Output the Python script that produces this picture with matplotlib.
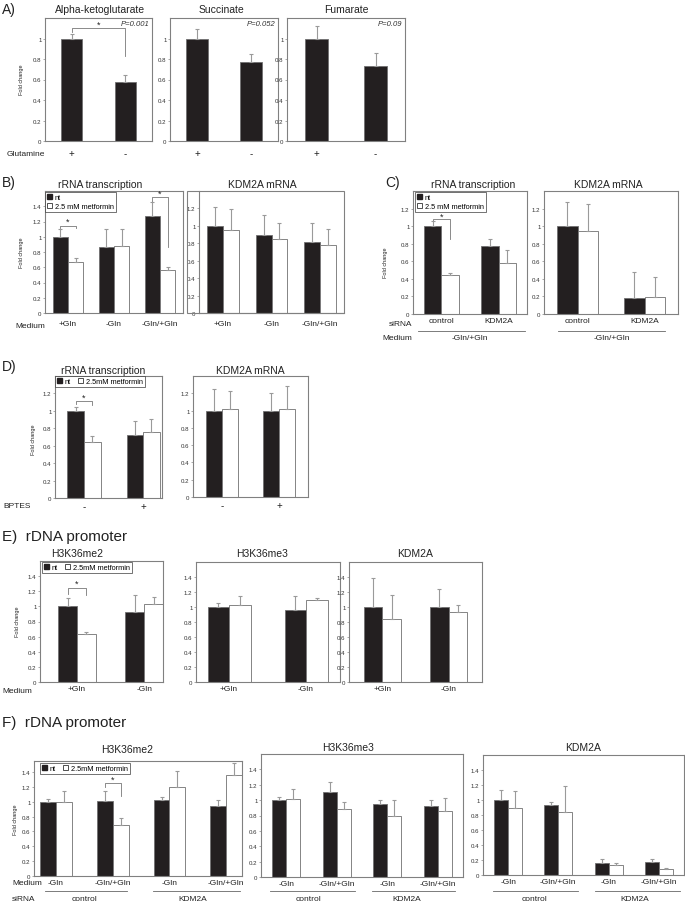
import numpy as np
import matplotlib
matplotlib.use("Agg")
import matplotlib.pyplot as plt
from matplotlib.patches import Patch, Rectangle
from matplotlib.lines import Line2D
from matplotlib.ticker import FuncFormatter

plt.rcParams['font.family'] = ['Liberation Sans', 'DejaVu Sans']

# ---- data ----
# A) metabolites
a_titles = ["Alpha-ketoglutarate", "Succinate", "Fumarate"]
a_cats = ["+", "-"]
a_vals = [[1.0, 0.58], [1.0, 0.77], [1.0, 0.73]]
a_errs = [[0.04, 0.06], [0.09, 0.08], [0.12, 0.13]]
a_pvals = ["P=0.001", "P=0.052", "P=0.09"]

# B) medium
b_cats = ["+Gln", "-Gln", "-Gln/+Gln"]
b_rrna_nt = [1.0, 0.86, 1.27]
b_rrna_nt_err = [0.10, 0.24, 0.18]
b_rrna_met = [0.67, 0.88, 0.56]
b_rrna_met_err = [0.05, 0.22, 0.04]
b_kdm_nt = [1.0, 0.90, 0.82]
b_kdm_nt_err = [0.22, 0.23, 0.21]
b_kdm_met = [0.95, 0.85, 0.78]
b_kdm_met_err = [0.24, 0.18, 0.18]

# C) siRNA
c_cats = ["control", "KDM2A"]
c_rrna_nt = [1.0, 0.77]
c_rrna_nt_err = [0.06, 0.085]
c_rrna_met = [0.44, 0.58]
c_rrna_met_err = [0.03, 0.15]
c_kdm_nt = [1.0, 0.18]
c_kdm_nt_err = [0.27, 0.30]
c_kdm_met = [0.95, 0.19]
c_kdm_met_err = [0.30, 0.23]

# D) BPTES
d_cats = ["-", "+"]
d_rrna_nt = [1.0, 0.72]
d_rrna_nt_err = [0.05, 0.165]
d_rrna_met = [0.64, 0.76]
d_rrna_met_err = [0.075, 0.15]
d_kdm_nt = [1.0, 0.99]
d_kdm_nt_err = [0.245, 0.21]
d_kdm_met = [1.02, 1.02]
d_kdm_met_err = [0.21, 0.26]

# E) rDNA promoter, medium
e_cats = ["+Gln", "-Gln"]
e_me2_nt = [1.0, 0.92]
e_me2_nt_err = [0.11, 0.23]
e_me2_met = [0.63, 1.03]
e_me2_met_err = [0.03, 0.09]
e_me3_nt = [1.0, 0.96]
e_me3_nt_err = [0.06, 0.19]
e_me3_met = [1.03, 1.10]
e_me3_met_err = [0.12, 0.02]
e_kdm_nt = [1.0, 1.0]
e_kdm_nt_err = [0.39, 0.24]
e_kdm_met = [0.84, 0.93]
e_kdm_met_err = [0.32, 0.10]

# F) rDNA promoter, siRNA x medium
f_media = ["-Gln", "-Gln/+Gln", "-Gln", "-Gln/+Gln"]
f_sirna = ["control", "KDM2A"]
f_me2_nt = [1.0, 1.01, 1.02, 0.95]
f_me2_nt_err = [0.04, 0.13, 0.05, 0.07]
f_me2_met = [1.0, 0.69, 1.20, 1.36]
f_me2_met_err = [0.14, 0.09, 0.21, 0.16]
f_me3_nt = [1.0, 1.11, 0.95, 0.93]
f_me3_nt_err = [0.04, 0.12, 0.05, 0.07]
f_me3_met = [1.02, 0.88, 0.80, 0.86]
f_me3_met_err = [0.13, 0.10, 0.20, 0.17]
f_kdm_nt = [1.0, 0.93, 0.16, 0.17]
f_kdm_nt_err = [0.14, 0.05, 0.05, 0.05]
f_kdm_met = [0.90, 0.84, 0.14, 0.08]
f_kdm_met_err = [0.22, 0.35, 0.02, 0.01]

# ---- drawing helpers ----
W, H = 685, 904
fig = plt.figure(figsize=(W / 100, H / 100), dpi=100)

BLACK = '#231f20'
EDGE = '#707070'
ERR = '#9a9a9a'
TXT = '#222222'
EKW = dict(ecolor=ERR, elinewidth=0.8, capsize=1.2, capthick=0.8)


def ax_px(x0, y0, x1, y1):
    return fig.add_axes([x0 / W, 1 - y1 / H, (x1 - x0) / W, (y1 - y0) / H])


def text_px(x, y, s, **kw):
    kw.setdefault('color', TXT)
    fig.text(x / W, 1 - y / H, s, **kw)


def line_px(x0, x1, y):
    fig.add_artist(Line2D([x0 / W, x1 / W], [1 - y / H, 1 - y / H], color='#666', lw=0.6))


def setup(ax, ymax, ytop, xlim, cats, pad=3):
    ax.set_xlim(*xlim)
    ax.set_ylim(0, ymax)
    ax.set_yticks(np.round(np.arange(0, ytop + 0.01, 0.2), 1))
    ax.yaxis.set_major_formatter(FuncFormatter(lambda v, p: f"{v:g}"))
    ax.set_xticks(range(len(cats)))
    ax.set_xticklabels(cats)
    ax.tick_params(axis='y', labelsize=4.4, length=1.5, width=0.5, color='#888', pad=1, labelcolor='#333')
    ax.tick_params(axis='x', length=0, labelsize=6, pad=pad, labelcolor=TXT)
    for sp in ax.spines.values():
        sp.set_color('#808080')
        sp.set_linewidth(0.8)


def pair_bars(ax, nt, nt_err, met, met_err, w):
    x = np.arange(len(nt))
    z = np.zeros(len(nt))
    ax.bar(x - w / 2, nt, w, color=BLACK, edgecolor=EDGE, lw=0.6,
           yerr=[z, nt_err], error_kw=EKW, zorder=2)
    ax.bar(x + w / 2, met, w, color='white', edgecolor=EDGE, lw=0.6,
           yerr=[z, met_err], error_kw=EKW, zorder=2)


def bracket(ax, xa, xb, y, ya, yb, ystar):
    ax.plot([xa, xa, xb, xb], [ya, y, y, yb], color='#777', lw=0.6, clip_on=False)
    ax.text((xa + xb) / 2, ystar, '*', ha='center', va='center', fontsize=6.5, color=TXT)


def legend(ax, x0, y0, ncol, label):
    handles = [Patch(facecolor=BLACK, edgecolor=BLACK, label='nt'),
               Patch(facecolor='white', edgecolor='#333', lw=0.6, label=label)]
    lg = ax.legend(handles=handles, loc='upper left', ncol=ncol,
                   bbox_to_anchor=(x0 / W, 1 - y0 / H), bbox_transform=fig.transFigure,
                   fontsize=5.3, frameon=True, fancybox=False, borderpad=0.25,
                   handlelength=0.7, handleheight=0.7, handletextpad=0.4,
                   columnspacing=0.9, labelspacing=0.25, borderaxespad=0)
    lg.get_frame().set_edgecolor('#333')
    lg.get_frame().set_linewidth(0.6)


def ylab(x, y):
    text_px(x, y, 'Fold change', rotation=90, fontsize=4, ha='center', va='center')


# ---- A ----
text_px(2, 10, 'A)', fontsize=10, va='center')
a_boxes = [(45, 19, 152, 142), (170, 19, 278, 142), (287, 19, 405, 142)]
a_tx = [100, 221, 346]
for i in range(3):
    ax = ax_px(*a_boxes[i])
    setup(ax, 1.2, 1.0, (-0.5, 1.5), a_cats, pad=5)
    ax.tick_params(axis='x', labelsize=7)
    ax.bar(range(2), a_vals[i], 0.4, color=BLACK, edgecolor=EDGE, lw=0.6,
           yerr=[[0, 0], a_errs[i]], error_kw=EKW, zorder=2)
    ax.text(0.98, 0.985, a_pvals[i], transform=ax.transAxes, ha='right', va='top',
            fontsize=5.5, style='italic', color='#333')
    text_px(a_tx[i], 10, a_titles[i], fontsize=7.5, ha='center', va='center')
    if i == 0:
        bracket(ax, 0, 1, 1.10, 1.06, 0.83, 1.14)
ylab(22, 80)
text_px(7, 155, 'Glutamine', fontsize=6, va='center')

# ---- B ----
text_px(2, 183, 'B)', fontsize=10, va='center')
wb = 0.33
ax = ax_px(45, 192, 183, 314)
setup(ax, 1.6, 1.4, (-0.5, 2.5), b_cats, pad=5)
pair_bars(ax, b_rrna_nt, b_rrna_nt_err, b_rrna_met, b_rrna_met_err, wb)
bracket(ax, -wb / 2, wb / 2, 1.145, 1.11, 1.11, 1.21)
bracket(ax, 2 - wb / 2, 2 + wb / 2, 1.515, 1.46, 0.87, 1.57)
legend(ax, 45, 193, 1, '2.5 mM metformin')
text_px(100, 185, 'rRNA transcription', fontsize=7.5, ha='center', va='center')
ylab(22, 253)
text_px(15, 327, 'Medium', fontsize=6, va='center')

fig.add_artist(Rectangle((187 / W, 1 - 314 / H), (344 - 187) / W, (314 - 192) / H,
                         transform=fig.transFigure, fill=False, edgecolor='#808080', lw=0.8))
ax = ax_px(199, 192, 344, 314)
setup(ax, 1.4, 1.2, (-0.5, 2.5), b_cats, pad=5)
for s in ['top', 'right']:
    ax.spines[s].set_visible(False)
pair_bars(ax, b_kdm_nt, b_kdm_nt_err, b_kdm_met, b_kdm_met_err, wb)
text_px(262, 185, 'KDM2A mRNA', fontsize=7.5, ha='center', va='center')

# ---- C ----
text_px(385, 183, 'C)', fontsize=10, va='center')
wc = 0.3
ax = ax_px(413, 192, 527, 315)
setup(ax, 1.4, 1.2, (-0.5, 1.5), c_cats, pad=2.5)
pair_bars(ax, c_rrna_nt, c_rrna_nt_err, c_rrna_met, c_rrna_met_err, wc)
bracket(ax, -wc / 2, wc / 2, 1.08, 1.057, 0.85, 1.11)
legend(ax, 415, 193, 1, '2.5 mM metformin')
text_px(473, 185, 'rRNA transcription', fontsize=7.5, ha='center', va='center')
ylab(385, 263)
text_px(412, 324, 'siRNA', fontsize=6, va='center', ha='right')
text_px(412, 339, 'Medium', fontsize=6, va='center', ha='right')
line_px(418, 525, 332)
text_px(470, 339, '-Gln/+Gln', fontsize=6, va='center', ha='center')

ax = ax_px(544, 192, 678, 315)
setup(ax, 1.4, 1.2, (-0.5, 1.5), c_cats, pad=2.5)
pair_bars(ax, c_kdm_nt, c_kdm_nt_err, c_kdm_met, c_kdm_met_err, wc)
text_px(608, 185, 'KDM2A mRNA', fontsize=7.5, ha='center', va='center')
line_px(558, 665, 332)
text_px(612, 339, '-Gln/+Gln', fontsize=6, va='center', ha='center')

# ---- D ----
text_px(2, 367, 'D)', fontsize=10, va='center')
wd = 0.28
ax = ax_px(55, 377, 162, 499)
setup(ax, 1.4, 1.2, (-0.49, 1.32), d_cats, pad=2)
ax.tick_params(axis='x', labelsize=7)
pair_bars(ax, d_rrna_nt, d_rrna_nt_err, d_rrna_met, d_rrna_met_err, wd)
bracket(ax, -wd / 2, wd / 2, 1.117, 1.08, 1.07, 1.16)
legend(ax, 55, 377, 2, '2.5mM metformin')
text_px(103, 371, 'rRNA transcription', fontsize=7.5, ha='center', va='center')
ylab(33, 440)
text_px(3, 507, 'BPTES', fontsize=6, va='center')

ax = ax_px(193, 377, 308, 498)
setup(ax, 1.4, 1.2, (-0.5, 1.5), d_cats, pad=2)
ax.tick_params(axis='x', labelsize=7)
pair_bars(ax, d_kdm_nt, d_kdm_nt_err, d_kdm_met, d_kdm_met_err, wd)
text_px(250, 371, 'KDM2A mRNA', fontsize=7.5, ha='center', va='center')

# ---- E ----
text_px(2, 537, 'E)  rDNA promoter', fontsize=11, va='center')
we = 0.28
ax = ax_px(40, 562, 163, 683)
setup(ax, 1.6, 1.4, (-0.55, 1.28), e_cats, pad=2.5)
pair_bars(ax, e_me2_nt, e_me2_nt_err, e_me2_met, e_me2_met_err, we)
bracket(ax, -we / 2, we / 2, 1.24, 1.16, 1.15, 1.30)
legend(ax, 42, 563, 2, '2.5mM metformin')
text_px(77, 554, 'H3K36me2', fontsize=7.5, ha='center', va='center')
ylab(18, 622)
text_px(2, 692, 'Medium', fontsize=6, va='center')

ax = ax_px(196, 563, 340, 683)
setup(ax, 1.6, 1.4, (-0.43, 1.44), e_cats, pad=2.5)
pair_bars(ax, e_me3_nt, e_me3_nt_err, e_me3_met, e_me3_met_err, we)
text_px(262, 554, 'H3K36me3', fontsize=7.5, ha='center', va='center')

ax = ax_px(349, 563, 482, 683)
setup(ax, 1.6, 1.4, (-0.5, 1.5), e_cats, pad=2.5)
pair_bars(ax, e_kdm_nt, e_kdm_nt_err, e_kdm_met, e_kdm_met_err, we)
text_px(415, 554, 'KDM2A', fontsize=7.5, ha='center', va='center')

# ---- F ----
text_px(2, 723, 'F)  rDNA promoter', fontsize=11, va='center')
wf = 0.28
ax = ax_px(34, 762, 242, 877)
setup(ax, 1.55, 1.4, (-0.39, 3.28), f_media, pad=2)
pair_bars(ax, f_me2_nt, f_me2_nt_err, f_me2_met, f_me2_met_err, wf)
bracket(ax, 1 - wf / 2, 1 + wf / 2, 1.26, 1.20, 1.08, 1.31)
legend(ax, 40, 764, 2, '2.5mM metformin')
text_px(127, 750, 'H3K36me2', fontsize=7.5, ha='center', va='center')
ylab(15, 820)
text_px(12, 884, 'Medium', fontsize=6, va='center')
text_px(12, 900, 'siRNA', fontsize=6, va='center')
line_px(45, 127, 892)
line_px(153, 240, 892)
text_px(85, 900, f_sirna[0], fontsize=6, va='center', ha='center')
text_px(193, 900, f_sirna[1], fontsize=6, va='center', ha='center')

ax = ax_px(261, 755, 463, 878)
setup(ax, 1.6, 1.4, (-0.5, 3.5), f_media, pad=2)
pair_bars(ax, f_me3_nt, f_me3_nt_err, f_me3_met, f_me3_met_err, wf)
text_px(348, 748, 'H3K36me3', fontsize=7.5, ha='center', va='center')
line_px(270, 355, 892)
line_px(372, 455, 892)
text_px(308, 900, f_sirna[0], fontsize=6, va='center', ha='center')
text_px(407, 900, f_sirna[1], fontsize=6, va='center', ha='center')

ax = ax_px(483, 756, 684, 876)
setup(ax, 1.6, 1.4, (-0.5, 3.5), f_media, pad=2.5)
pair_bars(ax, f_kdm_nt, f_kdm_nt_err, f_kdm_met, f_kdm_met_err, wf)
text_px(583, 748, 'KDM2A', fontsize=7.5, ha='center', va='center')
line_px(493, 578, 892)
line_px(595, 680, 892)
text_px(535, 900, f_sirna[0], fontsize=6, va='center', ha='center')
text_px(635, 900, f_sirna[1], fontsize=6, va='center', ha='center')

fig.savefig('out.png', dpi=100)
